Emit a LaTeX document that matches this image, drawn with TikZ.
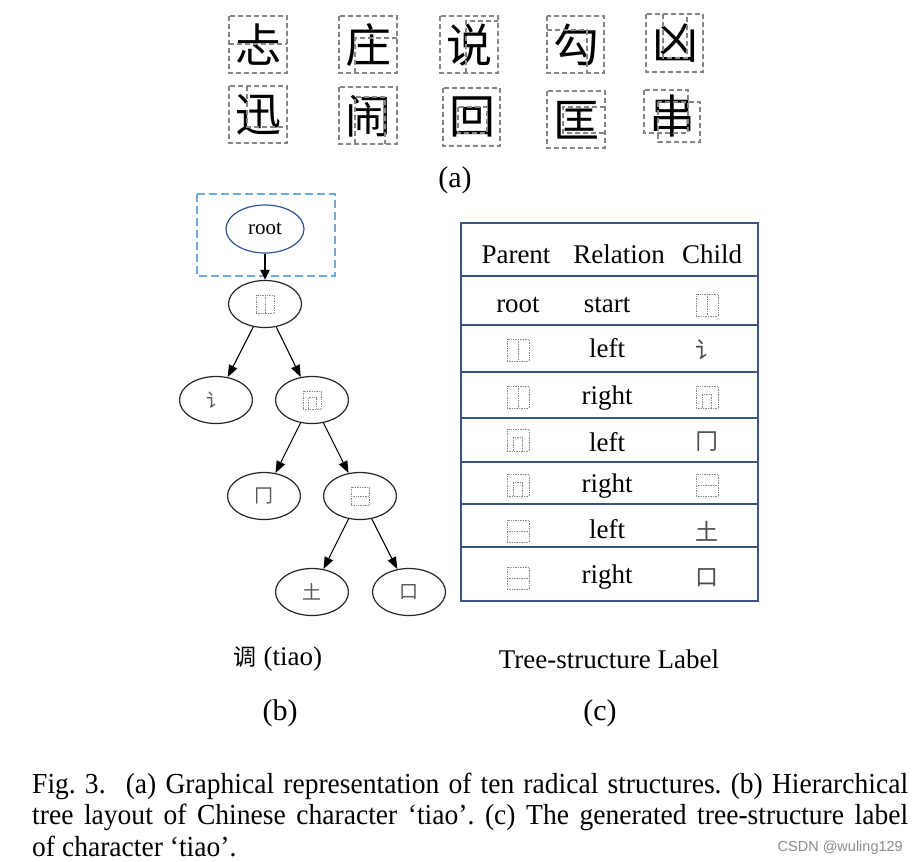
\documentclass[tikz,border=0pt]{standalone}
\usepackage{fontspec}
\setmainfont{Liberation Serif}
\newfontfamily\cjk{Noto Sans CJK SC}
\newfontfamily\marksans{Liberation Sans}
\usetikzlibrary{arrows.meta,calc,positioning,shapes.geometric}
\definecolor{RadGray}{HTML}{858585}
\definecolor{FrameBlue}{HTML}{6FA8DC}
\definecolor{RootBlue}{HTML}{2F5597}
\definecolor{TabNavy}{HTML}{3A5288}
\definecolor{IconGray}{HTML}{8A8A8A}
\newcommand{\setfs}[1]{\fontsize{#1}{#1}\selectfont}
\frenchspacing

\begin{document}
\begin{tikzpicture}[x=1pt,y=-1pt,
    >={Triangle[length=12pt,width=9pt]},
    radical/.style={font=\cjk\setfs{46},inner sep=0pt},
    rbox/.style={draw=RadGray,line width=1.5pt,dash pattern=on 5pt off 3pt},
    rootframe/.style={draw=FrameBlue,line width=1.4pt,dash pattern=on 8pt off 4pt},
    tnode/.style={ellipse,draw=black!85,line width=1.2pt,minimum width=73pt,
      minimum height=47pt,inner sep=0pt,font=\cjk\setfs{19},text=black!65},
    tedge/.style={->,line width=1.1pt},
    iconbox/.style={draw=IconGray,densely dotted,line width=0.7pt,minimum size=#1,inner sep=0pt},
    icline/.style={draw=IconGray,densely dotted,line width=0.7pt},
    lricon/.style={iconbox=#1,path picture={
        \draw[icline] (path picture bounding box.north) -- (path picture bounding box.south);}},
    tbicon/.style={iconbox=#1,path picture={
        \draw[icline] (path picture bounding box.west) -- (path picture bounding box.east);}},
    encicon/.style={iconbox=#1,path picture={
        \coordinate (ea) at ($(path picture bounding box.south west)!0.28!(path picture bounding box.south east)$);
        \coordinate (eb) at ($(path picture bounding box.south west)!0.72!(path picture bounding box.south east)$);
        \coordinate (ec) at ($(path picture bounding box.north)!0.38!(path picture bounding box.south)$);
        \draw[icline] (ea) |- (ec) -| (eb);}},
    cell/.style={font=\setfs{27},text height=19pt,text depth=5pt,inner sep=0pt},
    cjkcell/.style={font=\cjk\setfs{23},text=black!70,inner sep=0pt},
    tabrule/.style={draw=TabNavy,line width=1.2pt},
    captext/.style={font=\setfs{29},inner sep=0pt,anchor=base west}
  ]
  \fill[white] (0,0) rectangle (916,862);

  % (a) ten radical structures
  \node[radical] (ra1) at (258,45) {忐};
  \node[radical] (ra2) at (368,45) {庄};
  \node[radical] (ra3) at (469,45) {说};
  \node[radical] (ra4) at (576,45) {勾};
  \node[radical] (ra5) at (675,43) {凶};
  \node[radical] (rb1) at (258,115) {迅};
  \node[radical] (rb2) at (368,116) {闹};
  \node[radical] (rb3) at (472,117) {回};
  \node[radical] (rb4) at (576,120) {匡};
  \node[radical] (rb5) at (672,116) {串};
  \draw[rbox] (229,16) rectangle (287,73) (229,44) -- (287,44);
  \draw[rbox] (339,16) rectangle (397,73) (355,73) |- (397,38);
  \draw[rbox] (440,16) rectangle (498,73) (466,73) |- (498,21);
  \draw[rbox] (547,16) rectangle (604,73) (547,30) -| (587,73);
  \draw[rbox] (646,14) rectangle (703,72) (663,14) |- (687,58) -- (687,14);
  \draw[rbox] (229,86) rectangle (287,143) (247,86) |- (287,127);
  \draw[rbox] (339,87) rectangle (397,144) (355,144) |- (385,97) -- (385,144);
  \draw[rbox] (443,88) rectangle (500,146) (458,107) rectangle (487,133);
  \draw[rbox] (547,91) rectangle (605,148) (605,107) -| (563,133) -- (605,133);
  \draw[rbox] (644,90) rectangle (688,133) (658,102) rectangle (700,142);
  \node[font=\setfs{30},inner sep=0pt] (capa) at (455,180) {(a)};

  % (b) tree of tiao
  \draw[rootframe] (197,194) rectangle (335,276);
  \node[tnode,draw=RootBlue,minimum width=78pt,minimum height=48pt,
    font=\setfs{21},text=black] (root) at (265,229) {root};
  \node[tnode] (n1) at (265,304) {};
  \node[lricon=18pt] (n1i) at (n1) {};
  \node[tnode] (c1) at (216,400) {讠};
  \node[tnode] (c2) at (312,400) {};
  \node[encicon=18pt] (c2i) at (c2) {};
  \node[tnode] (c3) at (264,496) {冂};
  \node[tnode] (c4) at (360,496) {};
  \node[tbicon=18pt] (c4i) at (c4) {};
  \node[tnode] (c5) at (312,592) {土};
  \node[tnode] (c6) at (409,592) {口};
  \draw[->,line width=2.6pt,>={Triangle[length=10pt,width=9pt]}] (root) -- (n1);
  \draw[tedge] (n1) -- (c1);
  \draw[tedge] (n1) -- (c2);
  \draw[tedge] (c2) -- (c3);
  \draw[tedge] (c2) -- (c4);
  \draw[tedge] (c4) -- (c5);
  \draw[tedge] (c4) -- (c6);
  \node[font=\setfs{27},inner sep=0pt] (tiao) at (278,659) {{\cjk\setfs{23}调} (tiao)};
  \node[font=\setfs{30},inner sep=0pt] (capb) at (280,713) {(b)};

  % (c) tree-structure label
  \draw[tabrule] (461,223) rectangle (758,601);
  \foreach \y in {276,325,372,418,462,504,547}
    \draw[tabrule] (461,\y) -- (758,\y);
  \node[cell] (hp) at (516,256) {Parent};
  \node[cell] (hr) at (619,256) {Relation};
  \node[cell] (hc) at (712,256) {Child};
  \node[cell] (p1) at (518,305) {root};
  \node[cell] (r1) at (607,305) {start};
  \node[lricon=22pt] (k1) at (707,305) {};
  \node[lricon=22pt] (p2) at (518,350) {};
  \node[cell] (r2) at (607,350) {left};
  \node[cjkcell] (k2) at (707,350) {讠};
  \node[lricon=22pt] (p3) at (518,397) {};
  \node[cell] (r3) at (607,397) {right};
  \node[encicon=22pt] (k3) at (707,397) {};
  \node[encicon=22pt] (p4) at (518,440) {};
  \node[cell] (r4) at (607,444) {left};
  \node[cjkcell] (k4) at (707,442) {冂};
  \node[encicon=22pt] (p5) at (518,485) {};
  \node[cell] (r5) at (607,485) {right};
  \node[tbicon=22pt] (k5) at (707,485) {};
  \node[tbicon=22pt] (p6) at (518,531) {};
  \node[cell] (r6) at (607,531) {left};
  \node[cjkcell] (k6) at (707,531) {土};
  \node[tbicon=22pt] (p7) at (518,578) {};
  \node[cell] (r7) at (607,576) {right};
  \node[cjkcell] (k7) at (707,578) {口};
  \node[font=\setfs{27},inner sep=0pt] (tlabel) at (609,659) {Tree-structure Label};
  \node[font=\setfs{30},inner sep=0pt] (capc) at (600,713) {(c)};

  % figure caption
  \node[captext] (cap1) at (32,793) {\scalebox{0.95}[1]{\makebox[922pt][s]{Fig. 3.\hspace{0.4em} (a) Graphical representation of ten radical structures. (b) Hierarchical}}};
  \node[captext] (cap2) at (32,824) {\scalebox{0.95}[1]{\makebox[922pt][s]{tree layout of Chinese character `tiao'. (c) The generated tree-structure label}}};
  \node[captext] (cap3) at (32,856) {\scalebox{0.95}[1]{of character `tiao'.}};
  \node[font=\marksans\setfs{14.5},text=black!45,inner sep=0pt,anchor=base east] (mark) at (903,851) {CSDN @wuling129};
\end{tikzpicture}
\end{document}
